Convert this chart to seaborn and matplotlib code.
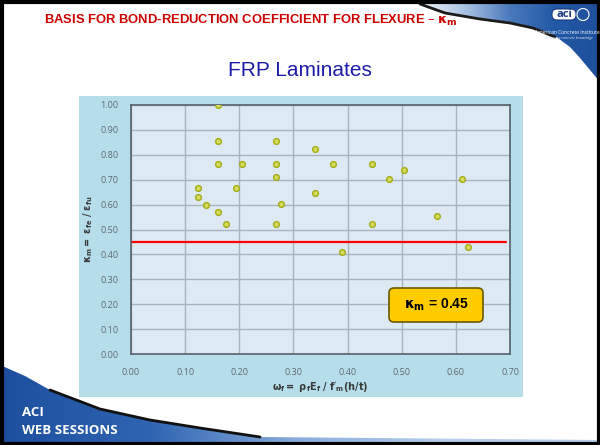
import numpy as np
import matplotlib.pyplot as plt
import seaborn as sns
from matplotlib.patches import Polygon, Rectangle, FancyBboxPatch
from matplotlib.colors import LinearSegmentedColormap

# data
omega_f = [0.160, 0.161, 0.267, 0.340, 0.161, 0.205, 0.267, 0.373, 0.267,
           0.123, 0.194, 0.123, 0.139, 0.277, 0.340, 0.161, 0.176, 0.267,
           0.389, 0.445, 0.505, 0.476, 0.611, 0.565, 0.445, 0.622]
kappa_m = [1.000, 0.855, 0.855, 0.822, 0.762, 0.762, 0.762, 0.762, 0.712,
           0.665, 0.665, 0.629, 0.597, 0.602, 0.645, 0.570, 0.523, 0.523,
           0.410, 0.762, 0.739, 0.704, 0.704, 0.555, 0.523, 0.431]
kappa_design = 0.45
x_ticks = [0.0, 0.1, 0.2, 0.3, 0.4, 0.5, 0.6, 0.7]
y_ticks = [0.0, 0.1, 0.2, 0.3, 0.4, 0.5, 0.6, 0.7, 0.8, 0.9, 1.0]

sns.set_style('white')
plt.rcParams['font.family'] = ['Open Sans', 'DejaVu Sans']
plt.rcParams['mathtext.fontset'] = 'dejavusans'
plt.rcParams['mathtext.default'] = 'bf'

W, H = 600, 445
fig = plt.figure(figsize=(6, 4.45), dpi=100)

# background layer in pixel coordinates
bg = fig.add_axes([0, 0, 1, 1], zorder=0)
bg.set_xlim(0, W)
bg.set_ylim(H, 0)
bg.axis('off')


def gradient_fill(axh, pts, colors):
    poly = Polygon(pts, closed=True, facecolor='none', edgecolor='none')
    axh.add_patch(poly)
    cmap = LinearSegmentedColormap.from_list('g', colors)
    xs = [p[0] for p in pts]
    ys = [p[1] for p in pts]
    im = axh.imshow(np.linspace(0, 1, 256)[None, :], cmap=cmap, aspect='auto',
                    extent=(min(xs), max(xs), max(ys), min(ys)), zorder=1)
    im.set_clip_path(poly)


# top right swoosh
top_curve = [(420, 3), (445, 12), (480, 18), (510, 22), (533, 27), (555, 36),
             (570, 47), (580, 58), (590, 70), (600, 82)]
gradient_fill(bg, top_curve + [(600, 0), (420, 0)],
              ['#f2f6fb', '#a8c2e4', '#4a79bb', '#2259a6', '#1d4e9b'])
bg.plot([p[0] for p in top_curve[:6]], [p[1] + 1 for p in top_curve[:6]],
        color='#1a1a1a', lw=2.0, zorder=2)

# bottom left swoosh
bot_curve = [(0, 365), (25, 376), (50, 390), (100, 409), (150, 420), (200, 428),
             (260, 437), (600, 440)]
gradient_fill(bg, bot_curve + [(600, 445), (0, 445)],
              ['#1d4f9e', '#2f64b2', '#8aaedb', '#b7cfea', '#b7cfea'])
bg.plot([p[0] for p in bot_curve[2:7]], [p[1] for p in bot_curve[2:7]],
        color='#111111', lw=2.0, zorder=2)

# chart area box
bg.add_patch(Rectangle((79, 96), 444, 301, facecolor='#b6deea', edgecolor='none', zorder=1))

# slide frame
bg.add_patch(Rectangle((1.5, 1.5), W - 3, H - 3, facecolor='none', edgecolor='black',
                       lw=3, zorder=3))

# main plot
ax = fig.add_axes([131 / W, (H - 354) / H, 379 / W, 249 / H], zorder=2)
ax.set_facecolor('#dde9f3')
ax.grid(True, color='#a8b3bc', lw=1.0)
ax.set_axisbelow(True)
sns.scatterplot(x=omega_f, y=kappa_m, ax=ax, s=17, color='#d6dd5c',
                edgecolor='#a2aa18', linewidth=1.0, zorder=3)
ax.axhline(kappa_design, xmin=0, xmax=0.99, color='#ff0000', lw=1.6, zorder=2)

ax.set_xlim(0, 0.7)
ax.set_ylim(0, 1.0)
ax.set_xticks(x_ticks)
ax.set_xticklabels([f'{v:.2f}' for v in x_ticks])
ax.set_yticks(y_ticks)
ax.set_yticklabels([f'{v:.2f}' for v in y_ticks])
ax.tick_params(length=0, labelsize=6.5, labelcolor='#5d6870')
ax.tick_params(axis='x', pad=10)
ax.tick_params(axis='y', pad=9)
for s in ax.spines.values():
    s.set_visible(True)
    s.set_color('#56616b')
    s.set_linewidth(1.2)

ax.set_xlabel(r"$\omega_f = \ \rho_f E_f\ /\ f'_m(h/t)$", fontsize=7, color='#3a3a3a', labelpad=2)
ax.set_ylabel(r"$\kappa_m = \ \epsilon_{fe}\ /\ \epsilon_{fu}$", fontsize=7, color='#3a3a3a', labelpad=4)

# overlay layer for texts and the callout box
top = fig.add_axes([0, 0, 1, 1], zorder=5)
top.set_xlim(0, W)
top.set_ylim(H, 0)
top.axis('off')
top.patch.set_alpha(0)

top.add_patch(FancyBboxPatch((389, 288), 94, 34, boxstyle='round,pad=0,rounding_size=5',
                             facecolor='#ffcc00', edgecolor='#6b5800', lw=1.2))
top.text(436, 305, r'$κ_m$ = 0.45', ha='center', va='center', fontsize=10,
         fontweight='bold', color='black', family=['Liberation Sans', 'DejaVu Sans'])

top.text(44, 20, r'BASIS FOR BOND-REDUCTION COEFFICIENT FOR FLEXURE – $κ_m$', ha='left',
         va='center', fontsize=9.4, fontweight='bold', color='#cc0000',
         family=['Liberation Sans', 'DejaVu Sans'])
top.text(300, 70, 'FRP Laminates', ha='center', va='center', fontsize=15,
         color='#1c1ca8', family=['Liberation Sans', 'DejaVu Sans'])

# logo
top.add_patch(FancyBboxPatch((552, 9), 24, 11, boxstyle='round,pad=0,rounding_size=5',
                             facecolor='white', edgecolor='#1a3a80', lw=0.8))
top.text(564, 14.5, 'aci', ha='center', va='center', fontsize=8, fontweight='bold',
         color='#1a3a80')
top.add_patch(plt.Circle((583, 14.5), 6, facecolor='none', edgecolor='white', lw=0.8))
top.text(567, 32, 'American Concrete Institute', ha='center', va='center', fontsize=3.6,
         color='white')
top.text(569, 38, 'Advancing concrete knowledge', ha='center', va='center', fontsize=2.6,
         color='#dde6f2', style='italic')

top.text(22, 412, 'ACI', ha='left', va='center', fontsize=9.5, fontweight='bold', color='white')
top.text(22, 431, 'WEB SESSIONS', ha='left', va='center', fontsize=9.5, fontweight='bold',
         color='white')

fig.savefig('out.png', dpi=100)
